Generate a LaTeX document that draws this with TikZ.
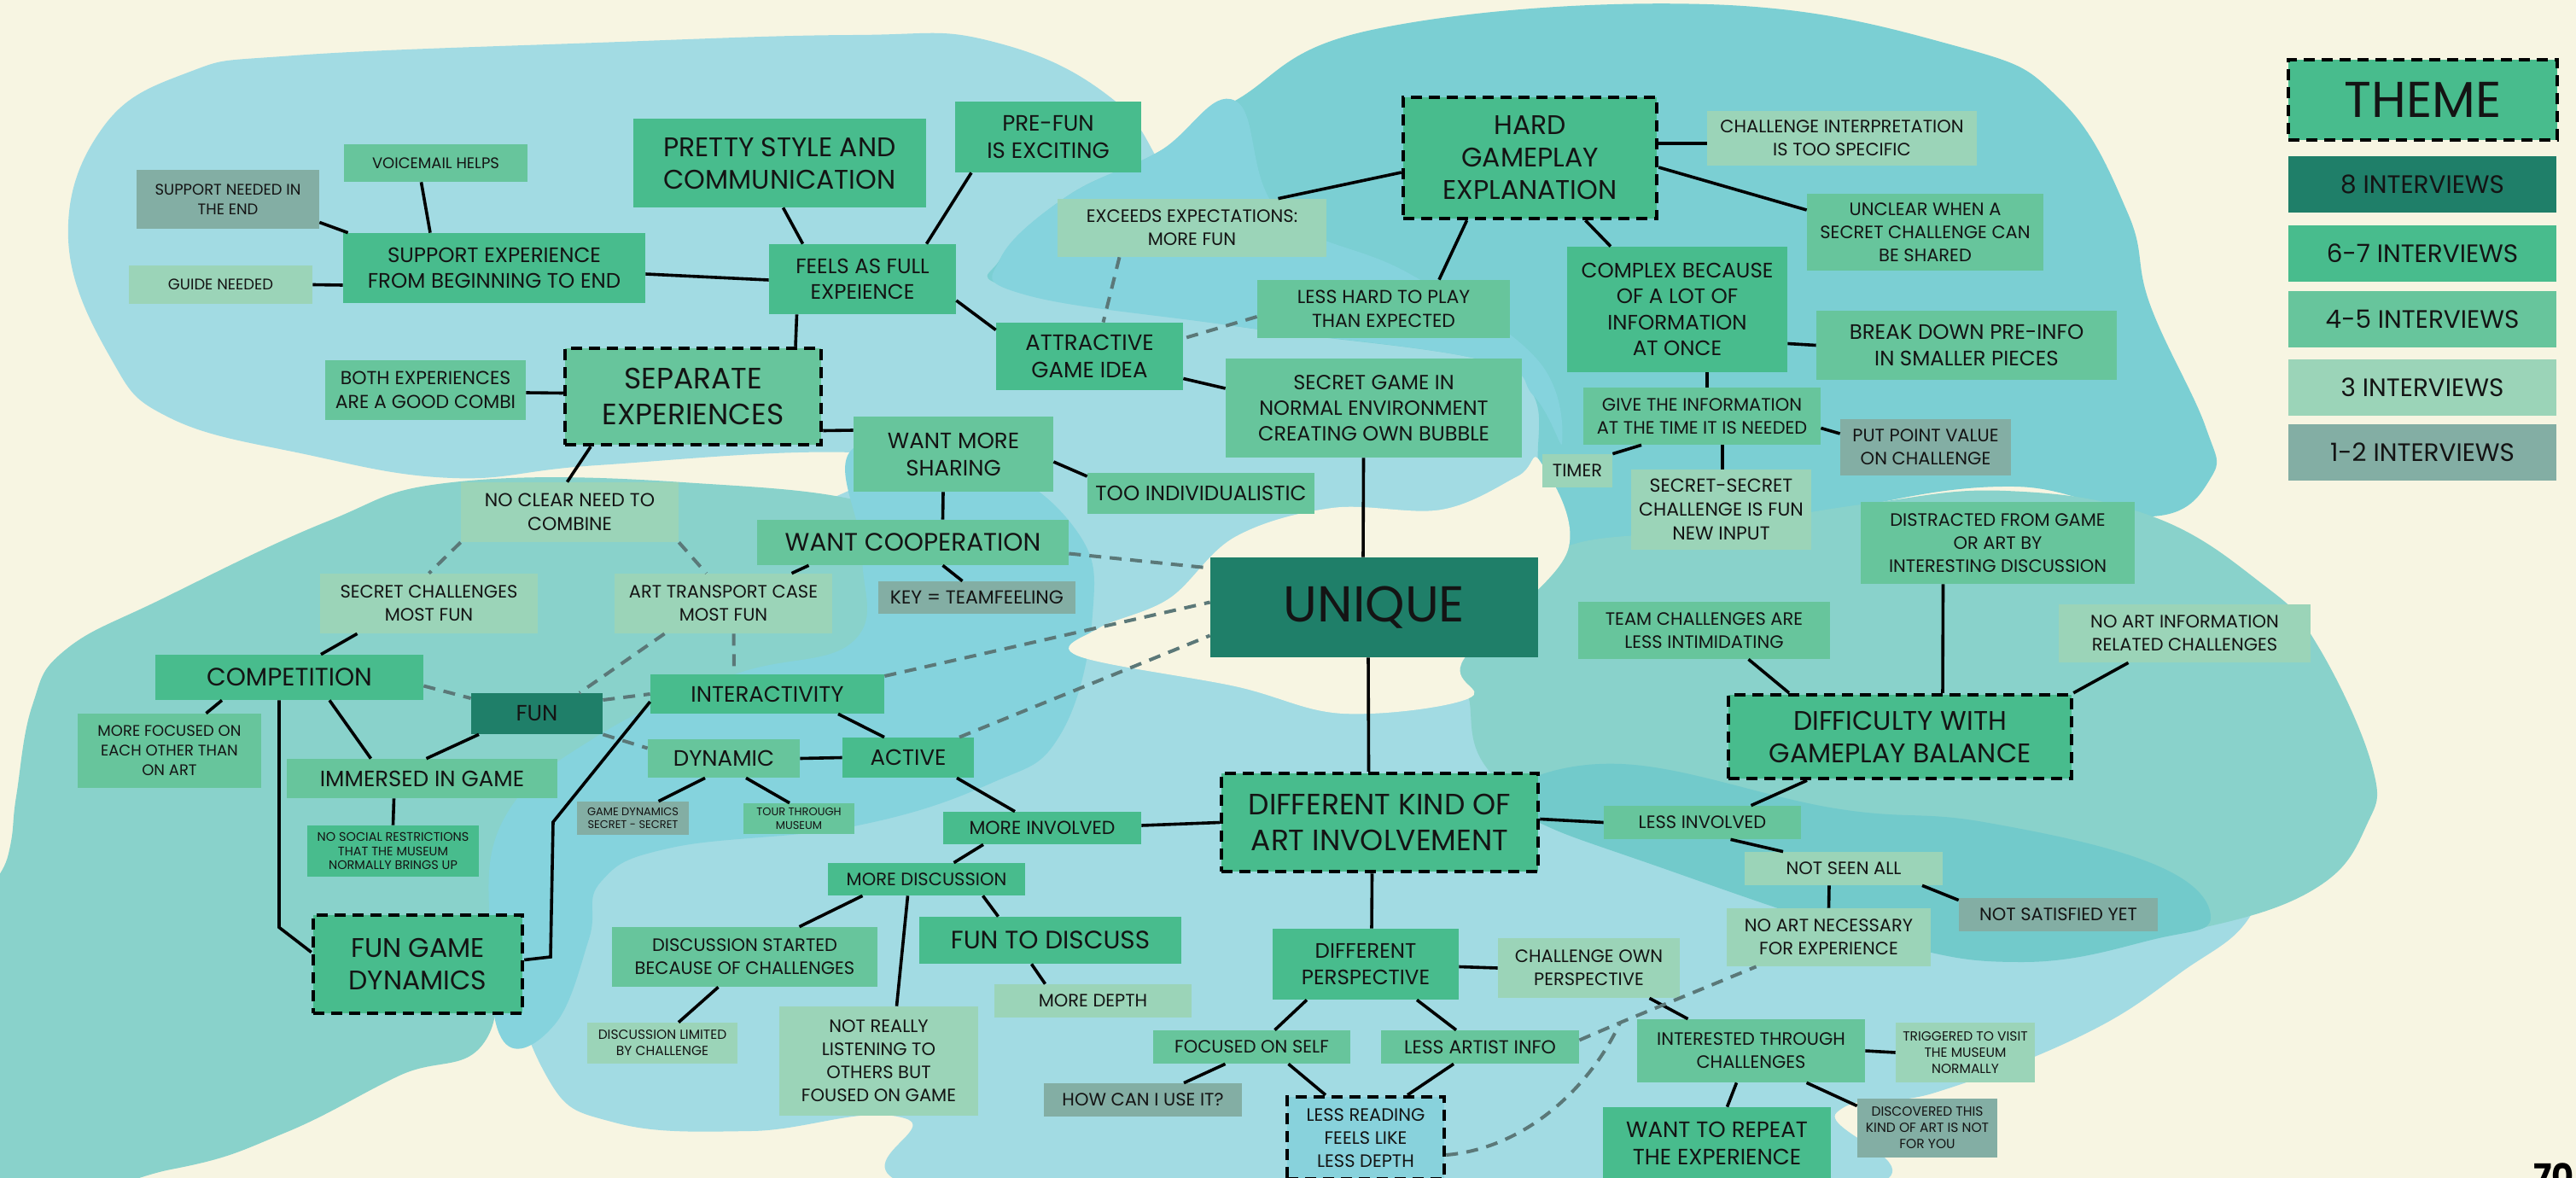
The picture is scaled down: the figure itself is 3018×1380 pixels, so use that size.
\documentclass[tikz,border=0pt]{standalone}
\usepackage{fontspec}
\setmainfont{Poppins}
\usetikzlibrary{calc}

\definecolor{paper}{HTML}{F7F5E2}
\definecolor{col8}{HTML}{1F7F69}
\definecolor{col67}{HTML}{48BC8D}
\definecolor{col45}{HTML}{67C59C}
\definecolor{col3}{HTML}{9BD4B8}
\definecolor{col12}{HTML}{83AEA4}
\definecolor{dashc}{HTML}{5B7878}
\definecolor{blobsky}{HTML}{A2DBE3}
\definecolor{blobteal}{HTML}{7BCFD3}
\definecolor{blobmint}{HTML}{89D2CB}
\definecolor{blobmid}{HTML}{85D3DD}
\definecolor{blobdeep}{HTML}{72CACB}
\definecolor{readfill}{HTML}{88D2DC}
\definecolor{ink}{HTML}{141414}

\tikzset{every picture/.style={line width=0.75pt},
  box/.style={rectangle, inner sep=0pt, align=center, text=ink},
  c8/.style={box, fill=col8}, c67/.style={box, fill=col67}, c45/.style={box, fill=col45},
  c3/.style={box, fill=col3}, c12/.style={box, fill=col12},
  themebox/.style={draw=black, line width=4.5pt, dash pattern=on 13pt off 8pt},
  link/.style={draw=black, line width=3.6pt},
  weak/.style={draw=dashc, line width=4pt, dash pattern=on 14pt off 10pt},
  fs59/.style={font=\fontsize{59}{70}\selectfont}, fs35/.style={font=\fontsize{34.5}{42}\selectfont},
  fs32/.style={font=\fontsize{31.5}{38}\selectfont}, fs29/.style={font=\fontsize{29.5}{36}\selectfont},
  fs26/.style={font=\fontsize{26}{32}\selectfont}, fs24/.style={font=\fontsize{24.5}{30.5}\selectfont},
  fs23/.style={font=\fontsize{24}{30}\selectfont}, fs22/.style={font=\fontsize{22}{28}\selectfont},
  fs21/.style={font=\fontsize{21}{27}\selectfont}, fs18/.style={font=\fontsize{18}{23}\selectfont},
  fs15/.style={font=\fontsize{15.5}{19}\selectfont}, fs14/.style={font=\fontsize{14.5}{16.5}\selectfont},
  fs13/.style={font=\fontsize{13}{15.5}\selectfont}}

\begin{document}
\begin{tikzpicture}[x=1pt,y=1pt,yscale=-1,xscale=1]
\useasboundingbox (0,0) rectangle (3018,1380);
\fill [paper] (0,0) rectangle (3018,1380);

%Shape: Blob [bottom]
\fill [blobsky] plot [smooth cycle, tension=0.7] coordinates {(640,900) (800,700) (1100,540) (1500,530) (1800,560) (1900,650) (2300,700) (2550,800) (2660,950) (2640,1067) (2554,1140) (2439,1213) (2267,1280) (2152,1303) (2130,1400) (1140,1400) (1060,1310) (880,1325) (720,1315) (640,1260) (600,1100)};
%Shape: Blob [left]
\fill [blobmint] plot [smooth cycle, tension=0.7] coordinates {(383,611) (530,565) (800,565) (1050,600) (1150,700) (1050,800) (800,850) (650,950) (590,1060) (570,1217) (468,1260) (334,1327) (200,1370) (-20,1395) (-20,1100) (10,1000) (19,933) (38,826) (77,761) (191,701)};
%Shape: Blob [top left]
\fill [blobsky] plot [smooth cycle, tension=0.7] coordinates {(345,65) (700,50) (1000,41) (1160,48) (1306,118) (1400,240) (1600,380) (1790,440) (1810,540) (1650,590) (1400,640) (1200,560) (1000,530) (700,545) (530,560) (357,532) (200,490) (130,420) (80,280) (120,150) (220,85)};
%Shape: Blob [middle]
\fill [blobmid] plot [smooth cycle, tension=0.7] coordinates {(1000,525) (1150,540) (1260,620) (1280,720) (1242,861) (1160,918) (1000,968) (787,993) (704,1033) (690,1100) (650,1200) (590,1220) (574,1100) (590,960) (702,861) (861,790) (1000,751) (1010,650)};
%Shape: Blob [top right]
\fill [blobteal] plot [smooth cycle, tension=0.7] coordinates {(1357,178) (1447,118) (1612,34) (2000,5) (2292,54) (2415,118) (2493,250) (2519,357) (2584,500) (2590,560) (2520,605) (2360,570) (2150,600) (1950,660) (1836,647) (1804,560) (1797,464) (1734,421) (1447,382) (1190,339) (1172,303) (1250,230)};
\fill [blobmid] plot [smooth cycle, tension=0.7] coordinates {(1357,178) (1447,118) (1500,250) (1650,320) (1800,420) (1830,520) (1797,464) (1734,421) (1447,382) (1200,345) (1172,303) (1250,230)};
%Shape: Blob [right]
\fill [blobmint] plot [smooth cycle, tension=0.7] coordinates {(1836,640) (2000,620) (2188,590) (2350,575) (2519,604) (2649,683) (2714,754) (2779,897) (2772,968) (2714,1040) (2584,1086) (2450,1100) (2300,1060) (2100,990) (1950,990) (1829,968) (1740,897) (1721,818) (1715,772) (1780,700)};
\fill [blobdeep] plot [smooth cycle, tension=0.7] coordinates {(1760,930) (1900,895) (2150,947) (2324,963) (2525,1013) (2590,1075) (2525,1100) (2370,1127) (2200,1100) (1922,1008) (1802,963)};
%Shape: Gap around the centre
\fill [paper] plot [smooth cycle, tension=0.6] coordinates {(1287,736) (1370,701) (1447,629) (1561,595) (1689,597) (1778,558) (1804,540) (1836,647) (1715,772) (1721,818) (1574,836) (1447,804) (1262,768)};

% Legend
\node [c67, fs59, themebox, minimum width=315pt, minimum height=94pt] (legtheme) at (2838.5,117) {THEME};
\node [c8, fs29, minimum width=314pt, minimum height=66pt] (leg8) at (2838,216) {8 INTERVIEWS};
\node [c67, fs29, minimum width=314pt, minimum height=66pt] (leg67) at (2838,297) {6-7 INTERVIEWS};
\node [c45, fs29, minimum width=314pt, minimum height=66pt] (leg45) at (2838,373.5) {4-5 INTERVIEWS};
\node [c3, fs29, minimum width=314pt, minimum height=66pt] (leg3) at (2838,453.5) {3 INTERVIEWS};
\node [c12, fs29, minimum width=314pt, minimum height=66pt] (leg12) at (2838,529.5) {1-2 INTERVIEWS};

% Text Node
\node [c12, fs18, minimum width=214pt, minimum height=69pt] (supneed) at (267,233.5) {SUPPORT NEEDED IN\\THE END};
\node [c45, fs18, minimum width=215pt, minimum height=44pt] (voice) at (510.5,191) {VOICEMAIL HELPS};
\node [c67, fs24, minimum width=354pt, minimum height=82pt] (support) at (579,314) {SUPPORT EXPERIENCE\\FROM BEGINNING TO END};
\node [c3, fs18, minimum width=215pt, minimum height=45pt] (guide) at (258.5,333.5) {GUIDE NEEDED};
\node [c67, fs32, minimum width=343pt, minimum height=104pt] (pretty) at (913.5,191) {PRETTY STYLE AND\\COMMUNICATION};
\node [c67, fs24, minimum width=219pt, minimum height=82pt] (feels) at (1010.5,327) {FEELS AS FULL\\EXPEIENCE};
\node [c67, fs26, minimum width=218pt, minimum height=83pt] (prefun) at (1228,160.5) {PRE-FUN\\IS EXCITING};
\node [c3, fs21, minimum width=315pt, minimum height=68pt] (exceeds) at (1396.5,267) {EXCEEDS EXPECTATIONS:\\MORE FUN};
\node [c67, fs32, themebox, minimum width=297pt, minimum height=142pt] (hard) at (1792.5,185) {HARD\\GAMEPLAY\\EXPLANATION};
\node [c45, fs22, minimum width=296pt, minimum height=68pt] (lesshard) at (1621,362) {LESS HARD TO PLAY\\THAN EXPECTED};
\node [c67, fs26, minimum width=219pt, minimum height=79pt] (attract) at (1276.5,417.5) {ATTRACTIVE\\GAME IDEA};
\node [c45, fs23, minimum width=347pt, minimum height=116pt] (secretgame) at (1609.5,478) {SECRET GAME IN\\NORMAL ENVIRONMENT\\CREATING OWN BUBBLE};
\node [c3, fs21, minimum width=316pt, minimum height=64pt] (chint) at (2158,162) {CHALLENGE INTERPRETATION\\IS TOO SPECIFIC};
\node [c45, fs21, minimum width=277pt, minimum height=90pt] (unclear) at (2255.5,272) {UNCLEAR WHEN A\\SECRET CHALLENGE CAN\\BE SHARED};
\node [c67, fs24, minimum width=258pt, minimum height=147pt] (complex) at (1965,362.5) {COMPLEX BECAUSE\\OF A LOT OF\\INFORMATION\\AT ONCE};
\node [c45, fs24, minimum width=352pt, minimum height=81pt] (breakdown) at (2304,404.5) {BREAK DOWN PRE-INFO\\IN SMALLER PIECES};
\node [c45, fs21, minimum width=278pt, minimum height=67pt] (giveinfo) at (1994,487.5) {GIVE THE INFORMATION\\AT THE TIME IT IS NEEDED};
\node [c12, fs21, minimum width=200pt, minimum height=66pt] (pointval) at (2256,524) {PUT POINT VALUE\\ON CHALLENGE};
\node [c3, fs21, minimum width=82pt, minimum height=39pt] (timer) at (1848,551.5) {TIMER};
\node [c3, fs22, minimum width=211pt, minimum height=94pt] (secsec) at (2016.5,597) {SECRET-SECRET\\CHALLENGE IS FUN\\NEW INPUT};
\node [c45, fs21, minimum width=321pt, minimum height=96pt] (distract) at (2340.5,636) {DISTRACTED FROM GAME\\OR ART BY\\INTERESTING DISCUSSION};
\node [c45, fs21, minimum width=295pt, minimum height=67pt] (teamch) at (1996.5,738.5) {TEAM CHALLENGES ARE\\LESS INTIMIDATING};
\node [c3, fs21, minimum width=295pt, minimum height=68pt] (noartinfo) at (2559.5,742) {NO ART INFORMATION\\RELATED CHALLENGES};
\node [c67, fs32, themebox, minimum width=402pt, minimum height=98pt] (difficulty) at (2226,863) {DIFFICULTY WITH\\GAMEPLAY BALANCE};
\node [c8, fs59, minimum width=384pt, minimum height=117pt] (unique) at (1610,711.5) {UNIQUE};
\node [c45, fs21, minimum width=231pt, minimum height=39pt] (lessinv) at (1994.5,963.5) {LESS INVOLVED};
\node [c3, fs21, minimum width=232pt, minimum height=39pt] (notseen) at (2160,1017.5) {NOT SEEN ALL};
\node [c12, fs21, minimum width=233pt, minimum height=39pt] (notsat) at (2411.5,1071.5) {NOT SATISFIED YET};
\node [c3, fs21, minimum width=239pt, minimum height=68pt] (noartnec) at (2142.5,1098) {NO ART NECESSARY\\FOR EXPERIENCE};
\node [c3, fs21, minimum width=213pt, minimum height=70pt] (chown) at (1861.5,1134) {CHALLENGE OWN\\PERSPECTIVE};
\node [c45, fs21, minimum width=267pt, minimum height=74pt] (interested) at (2051.5,1231) {INTERESTED THROUGH\\CHALLENGES};
\node [c3, fs15, minimum width=163pt, minimum height=70pt] (triggered) at (2302.5,1233) {TRIGGERED TO VISIT\\THE MUSEUM\\NORMALLY};
\node [c67, fs26, minimum width=267pt, minimum height=84pt] (repeat) at (2011.5,1339) {WANT TO REPEAT\\THE EXPERIENCE};
\node [c12, fs15, minimum width=164pt, minimum height=69pt] (discovered) at (2258,1321.5) {DISCOVERED THIS\\KIND OF ART IS NOT\\FOR YOU};
\node [c67, fs35, themebox, minimum width=371pt, minimum height=115pt] (diffkind) at (1616.5,963.5) {DIFFERENT KIND OF\\ART INVOLVEMENT};
\node [c67, fs24, minimum width=218pt, minimum height=83pt] (diffpersp) at (1600,1129.5) {DIFFERENT\\PERSPECTIVE};
\node [c45, fs21, minimum width=231pt, minimum height=39pt] (focself) at (1466.5,1226.5) {FOCUSED ON SELF};
\node [c45, fs22, minimum width=232pt, minimum height=39pt] (lessartist) at (1734,1226.5) {LESS ARTIST INFO};
\node [box, fill=readfill, fs21, themebox, minimum width=184pt, minimum height=96pt] (lessread) at (1600,1333) {LESS READING\\FEELS LIKE\\LESS DEPTH};
\node [c12, fs21, minimum width=232pt, minimum height=39pt] (howcan) at (1339,1288.5) {HOW CAN I USE IT?};
\node [c67, fs22, minimum width=232pt, minimum height=38pt] (moreinv) at (1221,970) {MORE INVOLVED};
\node [c67, fs21, minimum width=231pt, minimum height=38pt] (moredisc) at (1085.5,1030) {MORE DISCUSSION};
\node [c45, fs21, minimum width=311pt, minimum height=70pt] (discstart) at (872.5,1121) {DISCUSSION STARTED\\BECAUSE OF CHALLENGES};
\node [c67, fs29, minimum width=307pt, minimum height=55pt] (funtodisc) at (1230.5,1101.5) {FUN TO DISCUSS};
\node [c3, fs21, minimum width=231pt, minimum height=39pt] (moredepth) at (1280.5,1172.5) {MORE DEPTH};
\node [c3, fs15, minimum width=176pt, minimum height=48pt] (disclim) at (776,1222) {DISCUSSION LIMITED\\BY CHALLENGE};
\node [c3, fs21, minimum width=233pt, minimum height=128pt] (notreally) at (1029.5,1243) {NOT REALLY\\LISTENING TO\\OTHERS BUT\\FOUSED ON GAME};
\node [c67, fs32, themebox, minimum width=245pt, minimum height=115pt] (fungame) at (489.5,1129.5) {FUN GAME\\DYNAMICS};
\node [c12, fs13, minimum width=131pt, minimum height=39pt] (gamedyn) at (741.5,958.5) {GAME DYNAMICS\\SECRET - SECRET};
\node [c45, fs13, minimum width=130pt, minimum height=36pt] (tour) at (936,959) {TOUR THROUGH\\MUSEUM};
\node [c67, fs14, minimum width=201pt, minimum height=60pt] (nosocial) at (460.5,997) {NO SOCIAL RESTRICTIONS\\THAT THE MUSEUM\\NORMALLY BRINGS UP};
\node [c45, fs26, minimum width=317pt, minimum height=46pt] (immersed) at (494.5,912) {IMMERSED IN GAME};
\node [c45, fs18, minimum width=215pt, minimum height=87pt] (morefoc) at (198.5,879.5) {MORE FOCUSED ON\\EACH OTHER THAN\\ON ART};
\node [c67, fs29, minimum width=314pt, minimum height=53pt] (competition) at (339,793.5) {COMPETITION};
\node [c8, fs26, minimum width=154pt, minimum height=48pt] (fun) at (629,836) {FUN};
\node [c67, fs26, minimum width=274pt, minimum height=46pt] (interact) at (899,813) {INTERACTIVITY};
\node [c45, fs26, minimum width=178pt, minimum height=45pt] (dynamic) at (848,888.5) {DYNAMIC};
\node [c67, fs26, minimum width=154pt, minimum height=47pt] (active) at (1064,887.5) {ACTIVE};
\node [c3, fs21, minimum width=255pt, minimum height=70pt] (secchal) at (502.5,707) {SECRET CHALLENGES\\MOST FUN};
\node [c3, fs21, minimum width=255pt, minimum height=70pt] (arttrans) at (847.5,707) {ART TRANSPORT CASE\\MOST FUN};
\node [c3, fs22, minimum width=255pt, minimum height=70pt] (noclear) at (667.5,600) {NO CLEAR NEED TO\\COMBINE};
\node [c45, fs29, minimum width=365pt, minimum height=53pt] (wantcoop) at (1069.5,635.5) {WANT COOPERATION};
\node [c12, fs22, minimum width=231pt, minimum height=38pt] (key) at (1144.5,700) {KEY = TEAMFEELING};
\node [c45, fs26, minimum width=234pt, minimum height=88pt] (wantshare) at (1117,532) {WANT MORE\\SHARING};
\node [c45, fs24, minimum width=266pt, minimum height=48pt] (toosind) at (1407,578) {TOO INDIVIDUALISTIC};
\node [c45, fs35, themebox, minimum width=300pt, minimum height=113pt] (separate) at (812,464.5) {SEPARATE\\EXPERIENCES};
\node [c45, fs22, minimum width=235pt, minimum height=70pt] (both) at (498.5,457) {BOTH EXPERIENCES\\ARE A GOOD COMBI};
% Page number
\node [anchor=north west, inner sep=0pt, font=\fontsize{40}{40}\selectfont\bfseries] (pagenum) at (2968,1362) {70};

%Straight Lines [top left]
\draw [link] ($(supneed.east)+(0,27)$) -- ($(support.north west)+(6,0)$);
\draw [link] ($(voice.south)+(-17,0)$) -- ($(support.north)+(-75,0)$);
\draw [link] (guide.east) -- ($(support.west)+(0,20)$);
\draw [link] ($(support.east)+(0,7)$) -- ($(feels.west)+(0,1)$);
\draw [link] ($(pretty.south)+(4,0)$) -- ($(feels.north)+(-70,0)$);
\draw [link] ($(prefun.south)+(-90,0)$) -- ($(feels.north)+(75,0)$);
\draw [link] ($(feels.south)+(-77,0)$) -- ($(separate.north)+(120,0)$);
\draw [link] ($(feels.east)+(0,25)$) -- ($(attract.west)+(0,-31)$);
\draw [link] ($(both.east)+(0,3)$) -- ($(separate.west)+(0,-4)$);
\draw [link] ($(separate.east)+(0,40)$) -- ($(wantshare.west)+(0,-28)$);
\draw [link] ($(separate.south)+(-120,0)$) -- ($(noclear.north)+(-3,0)$);
\draw [link] ($(attract.east)+(0,26)$) -- ($(secretgame.west)+(0,-23)$);
%Straight Lines [top right]
\draw [link] ($(hard.west)+(0,17)$) -- ($(exceeds.north)+(101,0)$);
\draw [link] ($(hard.south)+(-74,0)$) -- ($(lesshard.north)+(65,0)$);
\draw [link] ($(hard.south)+(65,0)$) -- ($(complex.north)+(-78,0)$);
\draw [link] ($(hard.east)+(0,-17)$) -- ($(chint.west)+(0,6)$);
\draw [link] ($(hard.east)+(0,11)$) -- ($(unclear.west)+(0,-26)$);
\draw [link] ($(complex.east)+(0,40)$) -- (breakdown.west);
\draw [link] ($(complex.south)+(35,0)$) -- ($(giveinfo.north)+(6,0)$);
\draw [link] ($(giveinfo.east)+(0,14)$) -- ($(pointval.west)+(0,-16)$);
\draw [link] ($(giveinfo.south)+(-71,0)$) -- (timer.north east);
\draw [link] ($(giveinfo.south)+(24,0)$) -- ($(secsec.north)+(1.5,0)$);
\draw [link] ($(secretgame.south)+(-12,0)$) -- ($(unique.north)+(-13,0)$);
%Straight Lines [middle]
\draw [link] ($(wantshare.east)+(0,9)$) -- ($(toosind.west)+(0,-20)$);
\draw [link] ($(wantshare.south)+(-12,0)$) -- ($(wantcoop.north)+(35,0)$);
\draw [link] ($(wantcoop.south)+(-122,0)$) -- ($(arttrans.north)+(80,0)$);
\draw [link] ($(wantcoop.south)+(35,0)$) -- ($(key.north)+(-17,0)$);
\draw [link] ($(unique.south)+(-7,0)$) -- ($(diffkind.north)+(-13,0)$);
%Straight Lines [right]
\draw [link] ($(teamch.south)+(52,0)$) -- ($(difficulty.north)+(-130,0)$);
\draw [link] ($(distract.south)+(-64,0)$) -- ($(difficulty.north)+(50,0)$);
\draw [link] ($(noartinfo.south)+(-66,0)$) -- (difficulty.north east);
\draw [link] ($(difficulty.south)+(-109,0)$) -- ($(lessinv.north)+(57,0)$);
\draw [link] ($(diffkind.east)+(0,-4)$) -- (lessinv.west);
\draw [link] ($(lessinv.south)+(33,0)$) -- ($(notseen.north)+(-71,0)$);
\draw [link] ($(notseen.south)+(92,0)$) -- ($(notsat.west)+(0,-17)$);
\draw [link] ($(notseen.south)+(-17,0)$) -- (noartnec.north);
%Straight Lines [bottom]
\draw [link] ($(diffkind.south)+(-9,0)$) -- ($(diffpersp.north)+(7,0)$);
\draw [link] ($(diffpersp.east)+(0,3)$) -- (chown.west);
\draw [link] ($(diffpersp.south)+(-69,0)$) -- ($(focself.north)+(27,0)$);
\draw [link] ($(diffpersp.south)+(60,0)$) -- ($(lessartist.north)+(-28,0)$);
\draw [link] ($(chown.south)+(71,0)$) -- ($(interested.north)+(-74,0)$);
\draw [link] (interested.east) -- (triggered.west);
\draw [link] ($(interested.south)+(-17,0)$) -- ($(repeat.north)+(12,0)$);
\draw [link] ($(interested.south)+(65,0)$) -- ($(discovered.west)+(0,-26)$);
\draw [link] ($(focself.south)+(-31,0)$) -- ($(howcan.north)+(48,0)$);
\draw [link] ($(focself.south)+(43,0)$) -- ($(lessread.north)+(-47,0)$);
\draw [link] ($(lessartist.south)+(-31,0)$) -- ($(lessread.north)+(49,0)$);
\draw [link] ($(moreinv.east)+(0,-3)$) -- (diffkind.west);
\draw [link] ($(active.south)+(57,0)$) -- ($(moreinv.north)+(-32,0)$);
\draw [link] ($(moreinv.south)+(-69,0)$) -- ($(moredisc.north)+(32,0)$);
\draw [link] ($(moredisc.south)+(-75,0)$) -- ($(discstart.north)+(64,0)$);
\draw [link] ($(moredisc.south)+(-22,0)$) -- ($(notreally.north)+(21,0)$);
\draw [link] ($(moredisc.south)+(66,0)$) -- ($(funtodisc.north)+(-61,0)$);
\draw [link] ($(funtodisc.south)+(-22,0)$) -- ($(moredepth.north)+(-56,0)$);
\draw [link] ($(discstart.south)+(-31,0)$) -- ($(disclim.north)+(19,0)$);
%Straight Lines [left]
\draw [link] ($(interact.south)+(83,0)$) -- ($(active.north)+(-28,0)$);
\draw [link] (dynamic.east) -- (active.west);
\draw [link] ($(dynamic.south)+(-22,0)$) -- ($(gamedyn.north)+(30,0)$);
\draw [link] ($(dynamic.south)+(26,0)$) -- ($(tour.north)+(-11,0)$);
\draw [link] ($(secchal.south)+(-84,0)$) -- ($(competition.north)+(37,0)$);
\draw [link] ($(competition.south)+(-79,0)$) -- ($(morefoc.north)+(43,0)$);
\draw [link] ($(competition.south)+(47,0)$) -- ($(immersed.north)+(-60,0)$);
\draw [link] ($(fun.south)+(-68,0)$) -- ($(immersed.north)+(5,0)$);
\draw [link] ($(immersed.south)+(-33,0)$) -- (nosocial.north);
\draw [link] ($(competition.south)+(-12,0)$) -- ++(0,266) -- ($(fungame.west)+(0,-14)$);
\draw [link] ($(interact.west)+(0,9)$) -- (648,963) -- (645,1121) -- ($(fungame.east)+(0,-5)$);

%Dashed Lines
\draw [weak] ($(exceeds.south)+(-85,0)$) -- ($(attract.north)+(16,0)$);
\draw [weak] ($(lesshard.west)+(0,9)$) -- ($(attract.east)+(0,-21)$);
\draw [weak] (noclear.south west) -- (secchal.north);
\draw [weak] (noclear.south east) -- ($(arttrans.north)+(-20,0)$);
\draw [weak] ($(arttrans.south)+(-69,0)$) -- ($(fun.north)+(50,0)$);
\draw [weak] ($(arttrans.south)+(12,0)$) -- ($(interact.north)+(-39,0)$);
\draw [weak] ($(competition.east)+(0,10)$) -- ($(fun.west)+(0,-18)$);
\draw [weak] ($(fun.east)+(0,-16)$) -- (interact.west);
\draw [weak] (fun.south east) -- ($(dynamic.west)+(0,-12)$);
\draw [weak] ($(wantcoop.east)+(0,13)$) -- ($(unique.west)+(0,-46)$);
\draw [weak] ($(interact.east)+(0,-21)$) -- ($(unique.west)+(0,-6)$);
\draw [weak] ($(active.north)+(60,0)$) -- ($(unique.west)+(0,33)$);
\coordinate (merge) at (1898,1198);
\draw [weak] ($(lessartist.east)+(0,-8)$) -- (merge) -- ($(noartnec.south)+(-85,0)$);
\draw [weak] ($(lessread.east)+(0,20)$) .. controls (1790,1345) and (1865,1270) .. (merge);
\end{tikzpicture}
\end{document}
